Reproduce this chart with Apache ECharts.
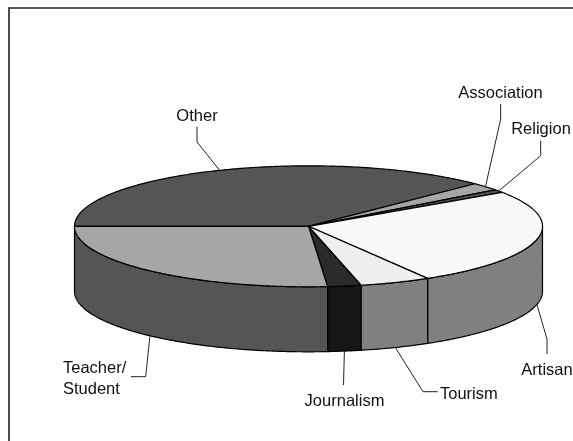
<!DOCTYPE html>
<html>
<head>
<meta charset="utf-8">
<style>html,body{margin:0;padding:0;background:#fff}#main{width:573px;height:441px}</style>
<script src="https://cdn.jsdelivr.net/npm/echarts@6/dist/echarts.min.js"></script>
</head>
<body>
<div id="main"></div>
<script>
var categories = ['Other', 'Association', 'Religion', 'Artisan', 'Tourism', 'Journalism', 'Teacher/\nStudent'];
var shares = [37.6, 2.1, 0.8, 26, 4.9, 2.3, 26.3]; // percent

var topColors = ['#555555', '#a6a6a6', '#555555', '#f8f8f8', '#eeeeee', '#2b2b2b', '#a6a6a6'];
var sideColors = ['#555555', '#a6a6a6', '#555555', '#808080', '#808080', '#161616', '#555555'];

// disc as drawn on the page
var cx = 308.5, cy = 226.3, rx = 234, ry = 60.5, depth = 65;
var startDeg = 180; // Other starts at the left edge, slices run clockwise

// where each leader bends and ends, and where its text sits
var leaders = [
    {bend: [[197, 142], [197, 127]], text: [197, 116.5], align: 'center'},
    {bend: [[500.7, 119], [500.7, 104]], text: [500.5, 93], align: 'center'},
    {bend: [[540.7, 155.7], [540.7, 140.7]], text: [541, 129], align: 'center'},
    {bend: [[547, 339], [547, 354]], text: [547, 370], align: 'center'},
    {bend: [[423, 391.7], [437.7, 391.7]], text: [440, 394], align: 'left'},
    {bend: [[343.5, 385]], text: [344.5, 401], align: 'center'},
    {bend: [[145.7, 376.7], [131, 376.7]], text: [63, 379], align: 'left', lineHeight: 21}
];

var spans = [];
(function () {
    var total = shares.reduce(function (a, b) { return a + b; }, 0), a = startDeg;
    shares.forEach(function (v) {
        var next = a + v / total * 360;
        spans.push([a, next]);
        a = next;
    });
})();

function pt(deg, dy) {
    var r = deg * Math.PI / 180;
    return [cx + rx * Math.cos(r), cy + ry * Math.sin(r) + (dy || 0)];
}
function arc(a0, a1, dy) {
    var out = [], n = Math.max(2, Math.ceil(Math.abs(a1 - a0) * 2));
    for (var i = 0; i <= n; i++) out.push(pt(a0 + (a1 - a0) * i / n, dy));
    return out;
}
// part of a span that faces the viewer (360..540 on the way round)
function frontPart(span) {
    var lo = Math.max(span[0], 360), hi = Math.min(span[1], 540);
    return hi > lo ? [lo, hi] : null;
}
var line = {stroke: '#000', lineWidth: 1.2, lineJoin: 'round'};

function renderSide(params, api) {
    var f = frontPart(spans[api.value(0)]);
    if (!f) return null;
    var pts = arc(f[0], f[1], 0).concat(arc(f[1], f[0], depth));
    return {type: 'polygon', shape: {points: pts},
        style: Object.assign({fill: sideColors[api.value(0)]}, line)};
}
function renderTop(params, api) {
    var s = spans[api.value(0)];
    var pts = [[cx, cy]].concat(arc(s[0], s[1], 0));
    return {type: 'polygon', shape: {points: pts},
        style: Object.assign({fill: topColors[api.value(0)]}, line)};
}
function renderLabel(params, api) {
    var i = api.value(0), s = spans[i], mid = (s[0] + s[1]) / 2;
    var front = mid >= 360 && mid <= 540;
    var l = leaders[i];
    return {type: 'group', children: [
        {type: 'polyline', shape: {points: [pt(mid, front ? depth : 0)].concat(l.bend)},
            style: {stroke: '#222', lineWidth: 1, fill: 'none'}},
        {type: 'text', x: l.text[0], y: l.text[1], style: {
            text: categories[i], fill: '#111', align: l.align, verticalAlign: 'middle',
            font: '16.5px "Liberation Sans", Arial, sans-serif', lineHeight: l.lineHeight || 18
        }}
    ]};
}

var idx = categories.map(function (c, i) { return [i, shares[i]]; });
var chart = echarts.init(document.getElementById('main'), null, {renderer: 'canvas'});
chart.setOption({
    animation: false,
    // only the top and left of the frame fall inside the picture
    graphic: [
        {type: 'polyline', shape: {points: [[9, 441], [9, 8], [573, 8]]},
            style: {fill: 'none', stroke: '#222', lineWidth: 1.6}, z: 0}
    ],
    series: [
        {type: 'custom', coordinateSystem: 'none', renderItem: renderSide, data: idx, z: 2},
        {type: 'custom', coordinateSystem: 'none', renderItem: renderTop, data: idx, z: 3},
        {type: 'custom', coordinateSystem: 'none', renderItem: renderLabel, data: idx, z: 4}
    ]
});
window.onresize = chart.resize;
</script>
</body>
</html>
